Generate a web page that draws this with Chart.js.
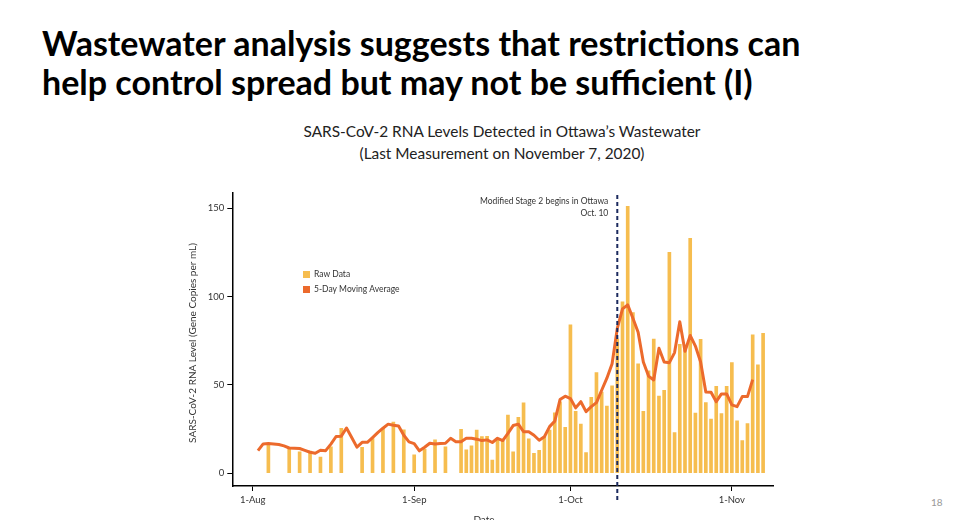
<!DOCTYPE html>
<html>
<head>
<meta charset="utf-8">
<script src="https://cdn.jsdelivr.net/npm/chart.js@4.4.1/dist/chart.umd.min.js"></script>
<style>
  html,body{margin:0;padding:0;background:#fff;}
  body{width:960px;height:520px;position:relative;overflow:hidden;font-family:Lato, sans-serif;}
  h1{position:absolute;left:42px;top:23px;margin:0;font-size:34px;line-height:39px;font-weight:700;color:#000;}
  .title{position:absolute;left:0;width:1004px;top:120px;text-align:center;font-size:15.4px;line-height:22px;color:#222;}
  .page{position:absolute;left:931px;top:496px;font-size:10px;color:#999;}
  #chart{position:absolute;left:0;top:0;}
</style>
</head>
<body>
<h1>Wastewater analysis suggests that restrictions can<br>help control spread but may not be sufficient (I)</h1>
<div class="title">SARS-CoV-2 RNA Levels Detected in Ottawa’s Wastewater<br>(Last Measurement on November 7, 2020)</div>
<div class="page">18</div>
<canvas id="chart" width="960" height="520"></canvas>
<script>
// days counted from 1 Aug 2020 (day 0)
const tickDays = [0, 31, 61, 92];
const tickLabels = ['1-Aug', '1-Sep', '1-Oct', '1-Nov'];
const yTicks = [0, 50, 100, 150];
const stageDay = 70; // Oct. 10

// raw samples
const rawDays = [3, 7, 9, 11, 13, 15, 17, 21, 23, 25, 27, 29, 31, 33, 35, 37,
  40, 41, 42, 43, 44, 45, 46, 47, 48, 49, 50, 51, 52, 53, 54, 55, 56, 57, 58, 59, 60,
  61, 62, 63, 64, 65, 66, 67, 68, 69, 70, 71, 72, 73, 74, 75, 76, 77, 78, 79, 80,
  81, 82, 83, 84, 85, 86, 87, 88, 89, 90, 91, 92, 93, 94, 95, 96, 97, 98];
const rawValues = [16.2, 14.5, 12.2, 12.5, 9.2, 15, 25.4, 14.7, 19.7, 25.5, 29, 24.6, 10.5, 13.7, 18.9, 14.9,
  24.9, 13.2, 15.5, 24.5, 20.7, 20.9, 7.5, 19.3, 18.4, 33, 12.2, 31.6, 39.8, 19.5, 11.3, 13, 20.7, 24.5, 34.2, 40.5, 26,
  84, 35, 27.9, 11.7, 43, 57, 46, 38, 49.5, 76, 97, 151, 91, 62, 35, 58, 76, 43.7, 47, 125,
  23, 73, 70, 133, 34, 75.8, 40, 30.6, 49.2, 33.8, 49.2, 62.6, 29.7, 18.5, 28.1, 78.3, 61.3, 79.2];

// 5-day moving average, one value per day from day 1 to day 96
const maStart = 1;
const maValues = [12.8, 16.6, 16.8, 16.6, 16.3, 15.5, 14.3, 14.2, 14.0, 13.0,
  11.9, 11.3, 13.0, 12.8, 16.5, 20.8, 21.0, 25.6, 20.3, 14.8,
  17.5, 17.5, 20.2, 23.0, 25.5, 27.8, 27.2, 26.8, 21.5, 17.8,
  16.8, 12.7, 14.7, 17.0, 16.6, 16.8, 17.0, 19.8, 17.9, 17.9,
  19.8, 19.8, 19.3, 18.5, 18.9, 17.4, 19.8, 18.5, 22.6, 27.0,
  27.8, 23.5, 23.5, 21.5, 18.7, 20.7, 26.4, 29.5, 41.7, 43.6,
  42.3, 37.0, 40.5, 34.9, 37.7, 40.0, 47.0, 53.8, 62.0, 82.0,
  93.0, 95.3, 87.7, 79.8, 63.0, 55.0, 52.8, 70.7, 63.0, 62.6,
  68.3, 85.8, 69.0, 78.0, 72.0, 63.0, 46.0, 45.8, 40.5, 44.9,
  44.9, 38.7, 37.7, 43.4, 43.4, 53.0];

const rawColor = '#F6BD4F';
const maColor = '#EC6A2C';

const extras = {
  id: 'extras',
  afterDatasetsDraw(chart) {
    const { ctx, chartArea } = chart;
    const x = chart.scales.x.getPixelForValue(stageDay);
    ctx.save();
    // stage line
    ctx.strokeStyle = '#1B2A5E';
    ctx.lineWidth = 2;
    ctx.setLineDash([4, 3]);
    ctx.beginPath();
    ctx.moveTo(x, chartArea.top + 2);
    ctx.lineTo(x, chartArea.bottom + 14);
    ctx.stroke();
    ctx.setLineDash([]);
    ctx.fillStyle = '#333';
    ctx.font = '8.5px Lato, sans-serif';
    ctx.textAlign = 'right';
    ctx.textBaseline = 'middle';
    ctx.fillText('Modified Stage 2 begins in Ottawa', x - 9, 201);
    ctx.fillText('Oct. 10', x - 9, 213);

    // legend
    ctx.textAlign = 'left';
    ctx.fillStyle = rawColor;
    ctx.fillRect(303, 271, 7, 7);
    ctx.fillStyle = maColor;
    ctx.fillRect(303, 286, 7, 7);
    ctx.fillStyle = '#333';
    ctx.fillText('Raw Data', 314, 274.5);
    ctx.fillText('5-Day Moving Average', 314, 289.5);

    // axis titles
    ctx.font = '10px Lato, sans-serif';
    ctx.textAlign = 'center';
    ctx.fillText('Date', 484, 520);
    ctx.translate(193, 343);
    ctx.rotate(-Math.PI / 2);
    ctx.fillText('SARS-CoV-2 RNA Level (Gene Copies per mL)', 0, 0);
    ctx.restore();
  }
};

new Chart(document.getElementById('chart'), {
  type: 'bar',
  data: {
    datasets: [
      {
        type: 'line',
        label: '5-Day Moving Average',
        data: maValues.map((v, i) => ({ x: maStart + i, y: v })),
        borderColor: maColor,
        borderWidth: 3,
        pointRadius: 0,
        tension: 0,
        borderJoinStyle: 'round',
        order: 0
      },
      {
        type: 'bar',
        label: 'Raw Data',
        data: rawDays.map((d, i) => ({ x: d, y: rawValues[i] })),
        backgroundColor: rawColor,
        barThickness: 3,
        order: 1
      }
    ]
  },
  options: {
    responsive: false,
    animation: false,
    layout: { padding: { left: 180, top: 193, right: 187, bottom: 0 } },
    plugins: { legend: { display: false }, tooltip: { enabled: false } },
    scales: {
      x: {
        type: 'linear',
        min: -3.93,
        max: 99.9,
        offset: false,
        afterBuildTicks: s => { s.ticks = tickDays.map(v => ({ value: v })); },
        afterFit: s => { s.height = 34; },
        ticks: {
          callback: v => tickLabels[tickDays.indexOf(v)],
          font: { family: 'Lato', size: 9.5 },
          color: '#333',
          padding: 3,
          maxRotation: 0
        },
        grid: { offset: false, drawOnChartArea: false, drawTicks: true, tickLength: 5, color: '#000' },
        border: { color: '#000', width: 1.5 }
      },
      y: {
        min: -7.2,
        max: 158.6,
        afterBuildTicks: s => { s.ticks = yTicks.map(v => ({ value: v })); },
        afterFit: s => { s.width = 52.3; },
        ticks: {
          font: { family: 'Lato', size: 9.5 },
          color: '#333',
          padding: 3
        },
        grid: { drawOnChartArea: false, drawTicks: true, tickLength: 5, color: '#000' },
        border: { color: '#000', width: 1.5 }
      }
    }
  },
  plugins: [extras]
});
</script>
</body>
</html>
